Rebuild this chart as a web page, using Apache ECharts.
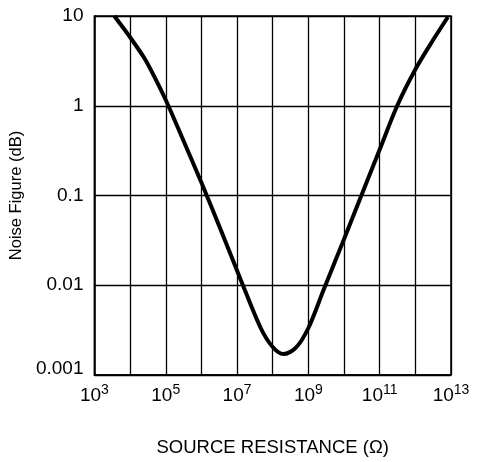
<!DOCTYPE html>
<html>
<head>
<meta charset="utf-8">
<script src="https://cdn.jsdelivr.net/npm/echarts@6/dist/echarts.min.js"></script>
<style>
html,body{margin:0;padding:0;background:#fff;}
#chart{width:480px;height:462px;}
</style>
</head>
<body>
<div id="chart"></div>
<script>
// Source resistance (ohms) and noise figure (dB)
var sourceResistance = [3.6e3, 1.0e4, 2.5e4, 4.7e4, 1.03e5, 3.3e5, 1.04e6, 3.5e6, 1.28e7, 4.6e7, 1e8, 2.0e8, 4.4e8, 1e9, 2.66e9, 1.03e10, 2.87e10, 1.04e11, 3.1e11, 1.05e12, 3.14e12, 8.2e12];
var noiseFigure      = [10, 5.8, 3.4, 2.14, 1.13, 0.39, 0.134, 0.0413, 0.0114, 0.00334, 0.00205, 0.00171, 0.002, 0.00334, 0.00885, 0.0336, 0.0937, 0.338, 1.0, 2.63, 5.4, 9.75];
var xTickExponents = [3, 5, 7, 9, 11, 13];
var yTickLabels = ['0.001', '0.01', '0.1', '1', '10'];
var xAxisTitle = 'SOURCE RESISTANCE (\u03A9)';
var yAxisTitle = 'Noise Figure (dB)';

var seriesData = sourceResistance.map(function (r, i) { return [r, noiseFigure[i]]; });
var FONT = '"Liberation Sans", Arial, sans-serif';

var chart = echarts.init(document.getElementById('chart'), null, {renderer: 'canvas'});
chart.setOption({
  animation: false,
  backgroundColor: '#fff',
  grid: {left: 93, right: 29, top: 16, bottom: 87, show: true, borderColor: '#000', borderWidth: 1.5, containLabel: false},
  xAxis: {
    type: 'log', logBase: 10, min: 1e3, max: 1e13, interval: 1,
    name: xAxisTitle, nameLocation: 'middle', nameGap: 63,
    nameTextStyle: {fontFamily: FONT, fontSize: 18.5, color: '#000'},
    axisLine: {show: true, lineStyle: {color: '#000', width: 1.5}},
    axisTick: {show: false},
    splitLine: {show: true, lineStyle: {color: '#000', width: 1.3}},
    axisLabel: {
      margin: 8, color: '#000',
      formatter: function (v) {
        var e = Math.round(Math.log10(v));
        if (xTickExponents.indexOf(e) < 0) return '';
        return '{b|10}{s|' + e + '}';
      },
      rich: {
        b: {fontFamily: FONT, fontSize: 19, color: '#000', lineHeight: 26, verticalAlign: 'middle'},
        s: {fontFamily: FONT, fontSize: 14, color: '#000', lineHeight: 12, verticalAlign: 'top'}
      }
    }
  },
  yAxis: {
    type: 'log', logBase: 10, min: 0.001, max: 10, interval: 1,
    name: yAxisTitle, nameLocation: 'middle', nameGap: 57,
    nameTextStyle: {fontFamily: FONT, fontSize: 16.5, color: '#000'},
    axisLine: {show: true, lineStyle: {color: '#000', width: 1.5}},
    axisTick: {show: false},
    splitLine: {show: true, lineStyle: {color: '#000', width: 1.3}},
    axisLabel: {
      margin: 11, color: '#000', fontFamily: FONT, fontSize: 19,
      formatter: function (v) {
        var e = Math.round(Math.log10(v));
        var lbl = yTickLabels[e + 3];
        if (e === -3) return '{low|' + lbl + '}';
        return lbl;
      },
      rich: {
        low: {fontFamily: FONT, fontSize: 19, color: '#000', padding: [0, 0, 12, 0]}
      }
    }
  },
  series: [{
    type: 'line', data: seriesData, smooth: 0.3, showSymbol: false,
    lineStyle: {color: '#000', width: 4}
  }]
});
</script>
</body>
</html>
